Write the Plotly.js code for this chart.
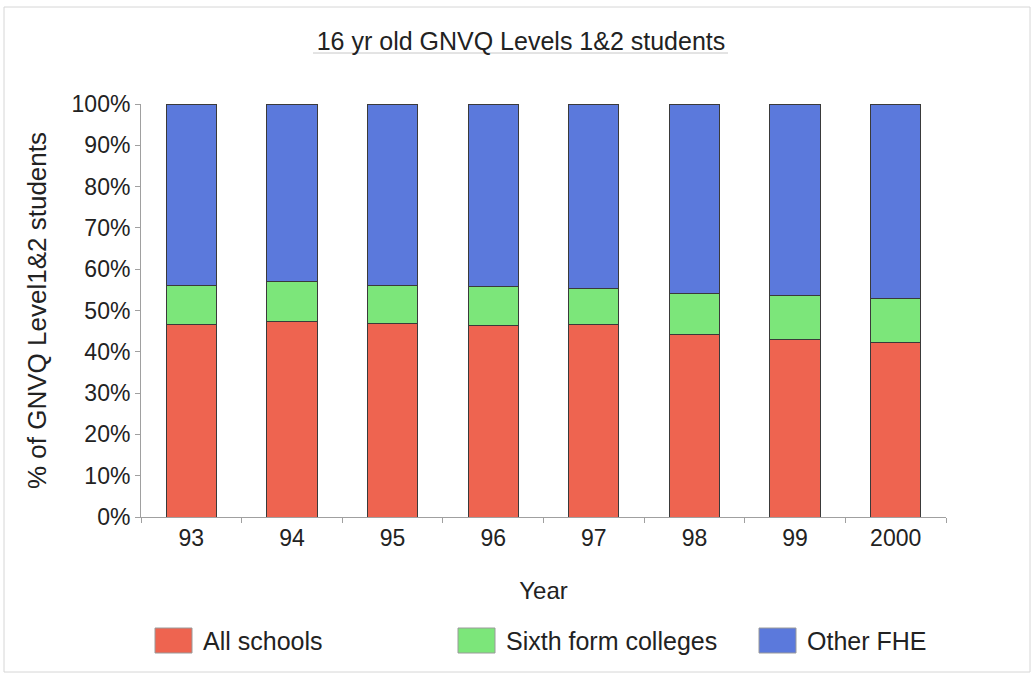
<!DOCTYPE html>
<html>
<head>
<meta charset="utf-8">
<script src="https://cdn.plot.ly/plotly-3.0.1.min.js"></script>
<style>
  html, body { margin: 0; padding: 0; background: #ffffff; }
  #chart { width: 1035px; height: 677px; }
</style>
</head>
<body>
<div id="chart"></div>
<script>
const years = ["93", "94", "95", "96", "97", "98", "99", "2000"];
const allSchools = [46.6, 47.4, 46.8, 46.4, 46.6, 44.2, 43.1, 42.2];
const sixthForm = [9.5, 9.6, 9.3, 9.5, 8.7, 9.9, 10.5, 10.7];
const otherFHE = [43.9, 43.0, 43.9, 44.1, 44.7, 45.9, 46.4, 47.1];
const seriesNames = ["All schools", "Sixth form colleges", "Other FHE"];
const seriesColors = ["#ee6450", "#7ce67a", "#5b79dc"];

const L = 141, R = 946, T = 104, B = 517, W = 1035, H = 677;
const px = x => (x - L) / (R - L);
const py = y => (B - y) / (B - T);

const font = "'Liberation Sans', Arial, sans-serif";
const txt = "#222222";

const seriesValues = [allSchools, sixthForm, otherFHE];
const traces = seriesValues.map((vals, i) => ({
  type: "bar",
  x: years,
  y: vals,
  name: seriesNames[i],
  marker: { color: seriesColors[i], line: { color: "#3a3a3a", width: 1 } },
  hovertemplate: "%{x}: %{y:.1f}%<extra>" + seriesNames[i] + "</extra>"
}));

// manual legend (large swatches like the reference)
const legendX = [155, 458, 759];
const shapes = [];
const annotations = [];
seriesNames.forEach((n, i) => {
  shapes.push({
    type: "rect", xref: "paper", yref: "paper",
    x0: px(legendX[i]), x1: px(legendX[i] + 37),
    y0: py(653), y1: py(628),
    fillcolor: seriesColors[i], line: { color: "#9a9a9a", width: 1 }
  });
  annotations.push({
    xref: "paper", yref: "paper", x: px(legendX[i] + 46), y: py(641),
    xanchor: "left", yanchor: "middle", showarrow: false,
    text: n, font: { family: font, size: 25, color: txt }
  });
});
// title underline
shapes.push({
  type: "line", xref: "paper", yref: "paper",
  x0: px(313), x1: px(728), y0: py(53), y1: py(53),
  line: { color: "#c8c8c8", width: 1 }
});
// outer frame
shapes.push({
  type: "rect", xref: "paper", yref: "paper",
  x0: px(4), x1: px(1030), y0: py(672), y1: py(7),
  line: { color: "#d6d6d6", width: 1 }, fillcolor: "rgba(0,0,0,0)"
});

const layout = {
  width: W, height: H,
  margin: { l: L, r: W - R, t: T, b: H - B },
  paper_bgcolor: "#ffffff",
  plot_bgcolor: "#ffffff",
  barmode: "stack",
  bargap: 0.5,
  showlegend: false,
  font: { family: font, size: 23, color: txt },
  title: {
    text: "16 yr old GNVQ Levels 1&2 students",
    x: px(521), xref: "paper", xanchor: "center",
    y: 1 - 41 / H, yref: "container", yanchor: "middle",
    font: { family: font, size: 25, color: txt }
  },
  xaxis: {
    type: "category",
    showline: true, linecolor: "#a0a0a0", linewidth: 1,
    ticks: "outside", tickson: "boundaries", ticklen: 5, tickcolor: "#a0a0a0",
    showgrid: false, zeroline: false,
    tickfont: { family: font, size: 23, color: txt },
    title: { text: "Year", standoff: 32, font: { family: font, size: 24, color: txt } }
  },
  yaxis: {
    range: [0, 100],
    tickvals: [0, 10, 20, 30, 40, 50, 60, 70, 80, 90, 100],
    ticktext: ["0%", "10%", "20%", "30%", "40%", "50%", "60%", "70%", "80%", "90%", "100%"],
    showline: true, linecolor: "#a0a0a0", linewidth: 1,
    ticks: "outside", ticklen: 5, tickcolor: "#a0a0a0",
    showgrid: false, zeroline: false,
    tickfont: { family: font, size: 23, color: txt },
    title: { text: "% of GNVQ Level1&2 students", standoff: 17, font: { family: font, size: 26, color: txt } }
  },
  shapes: shapes,
  annotations: annotations
};

Plotly.newPlot("chart", traces, layout, { displayModeBar: false, staticPlot: true });
</script>
</body>
</html>
